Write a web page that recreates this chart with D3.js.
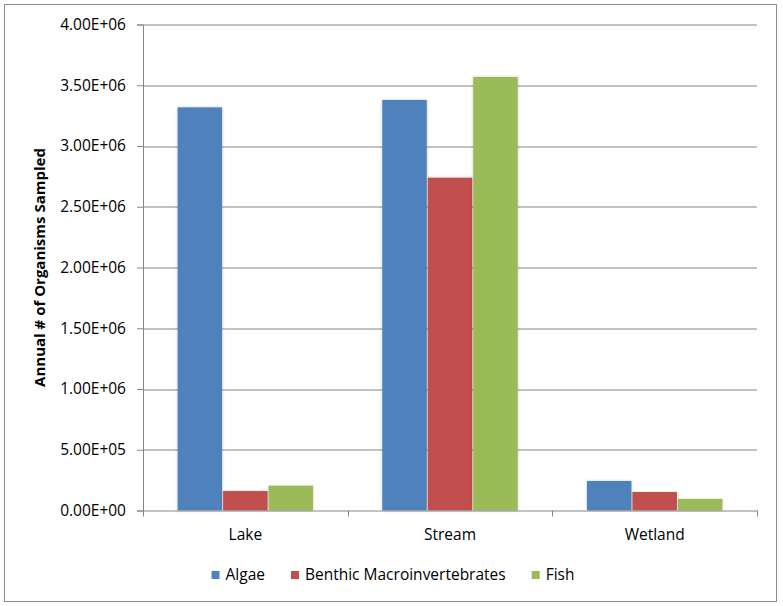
<!DOCTYPE html>
<html>
<head>
<meta charset="utf-8">
<script src="https://cdn.jsdelivr.net/npm/d3@7"></script>
<style>
  body { margin: 0; background: #fff; }
  text { font-family: "Open Sans", "Liberation Sans", sans-serif; fill: #000; }
</style>
</head>
<body>
<svg id="chart" width="783" height="606"></svg>
<script>
// Data
const categories = ['Lake', 'Stream', 'Wetland'];
const seriesNames = ['Algae', 'Benthic Macroinvertebrates', 'Fish'];
const algae = [3318000, 3379000, 243000];
const benthic = [160000, 2739000, 152000];
const fish = [204000, 3568000, 95000];
const yTicks = [0, 500000, 1000000, 1500000, 2000000, 2500000, 3000000, 3500000, 4000000];
const colors = ['#4F81BD', '#C0504D', '#9BBB59'];

const seriesValues = [algae, benthic, fish];
const rows = categories.map((c, i) => ({
  cat: c,
  vals: seriesNames.map((s, j) => ({ series: s, idx: j, value: seriesValues[j][i] }))
}));

const svg = d3.select('#chart');
const margin = { left: 143, right: 26, top: 24.5, bottom: 95.5 };
const W = 783, H = 606;
const plotW = W - margin.left - margin.right;
const plotH = H - margin.top - margin.bottom;
const fontPx = '15.5px';

// outer border
svg.append('rect')
  .attr('x', 4.5).attr('y', 4.5)
  .attr('width', 772).attr('height', 597)
  .attr('fill', '#fff').attr('stroke', '#8c8c8c').attr('stroke-width', 1);

const defs = svg.append('defs');
const f = defs.append('filter').attr('id', 'shadow')
  .attr('x', '-20%').attr('y', '-5%').attr('width', '140%').attr('height', '110%');
f.append('feDropShadow').attr('dx', 0).attr('dy', 0)
  .attr('stdDeviation', 1.6).attr('flood-color', '#000').attr('flood-opacity', 0.22);

const g = svg.append('g').attr('transform', `translate(${margin.left},${margin.top})`);

const x0 = d3.scaleBand().domain(categories).range([0, plotW]).paddingInner(0).paddingOuter(0);
const groupW = x0.bandwidth() * 3 / 4.5;
const x1 = d3.scaleBand().domain(seriesNames).range([0, groupW]).padding(0);
const y = d3.scaleLinear().domain([0, 4000000]).range([plotH, 0]);

// gridlines
g.append('g')
  .selectAll('line')
  .data(yTicks.filter(t => t > 0))
  .enter().append('line')
  .attr('x1', 0).attr('x2', plotW)
  .attr('y1', d => Math.round(y(d)) + 0.5).attr('y2', d => Math.round(y(d)) + 0.5)
  .attr('stroke', '#868686').attr('stroke-width', 1);

// y axis
const yAxis = g.append('g')
  .call(d3.axisLeft(y).tickValues(yTicks).tickSize(6).tickPadding(11)
    .tickFormat(d => {
      const s = d.toExponential(2).toUpperCase();
      return s.replace(/E([+-])(\d)$/, 'E$10$2');
    }));
yAxis.select('.domain').attr('stroke', '#868686');
yAxis.selectAll('.tick line').attr('stroke', '#868686');
yAxis.selectAll('.tick text').style('font-size', fontPx);

// bars
const groups = g.selectAll('.grp')
  .data(rows)
  .enter().append('g')
  .attr('class', 'grp')
  .attr('transform', d => `translate(${x0(d.cat) + (x0.bandwidth() - groupW) / 2},0)`);

groups.selectAll('rect')
  .data(d => d.vals)
  .enter().append('rect')
  .attr('x', d => x1(d.series) + 0.5)
  .attr('width', x1.bandwidth() - 1)
  .attr('y', d => y(d.value))
  .attr('height', d => plotH - y(d.value))
  .attr('fill', d => colors[d.idx])
  .attr('filter', 'url(#shadow)');

// x axis
const xAxis = g.append('g')
  .attr('transform', `translate(0,${plotH})`)
  .call(d3.axisBottom(x0).tickSize(0).tickPadding(18));
xAxis.select('.domain').attr('stroke', '#868686');
xAxis.selectAll('.tick text').style('font-size', fontPx);
// category separators
g.append('g').selectAll('line')
  .data(d3.range(categories.length + 1))
  .enter().append('line')
  .attr('x1', i => Math.round(i * x0.step()) + 0.5)
  .attr('x2', i => Math.round(i * x0.step()) + 0.5)
  .attr('y1', plotH).attr('y2', plotH + 6)
  .attr('stroke', '#868686');

// y axis title
svg.append('text')
  .attr('transform', `translate(45,${margin.top + plotH / 2}) rotate(-90)`)
  .attr('text-anchor', 'middle')
  .style('font-size', '15px').style('font-weight', 'bold')
  .text('Annual # of Organisms Sampled');

// legend
const legend = svg.append('g').attr('transform', 'translate(0,580)');
const items = legend.selectAll('g')
  .data(seriesNames)
  .enter().append('g');
items.append('rect')
  .attr('width', 8).attr('height', 8).attr('y', -9)
  .attr('fill', (d, i) => colors[i]);
items.append('text')
  .attr('x', 14)
  .style('font-size', fontPx)
  .text(d => d);
let cx = 0;
const widths = [];
items.each(function () {
  widths.push(this.getBBox().width);
});
const gap = 26;
const total = d3.sum(widths) + gap * (widths.length - 1);
cx = 393 - total / 2;
items.attr('transform', (d, i) => {
  const t = `translate(${cx},0)`;
  cx += widths[i] + gap;
  return t;
});
</script>
</body>
</html>
